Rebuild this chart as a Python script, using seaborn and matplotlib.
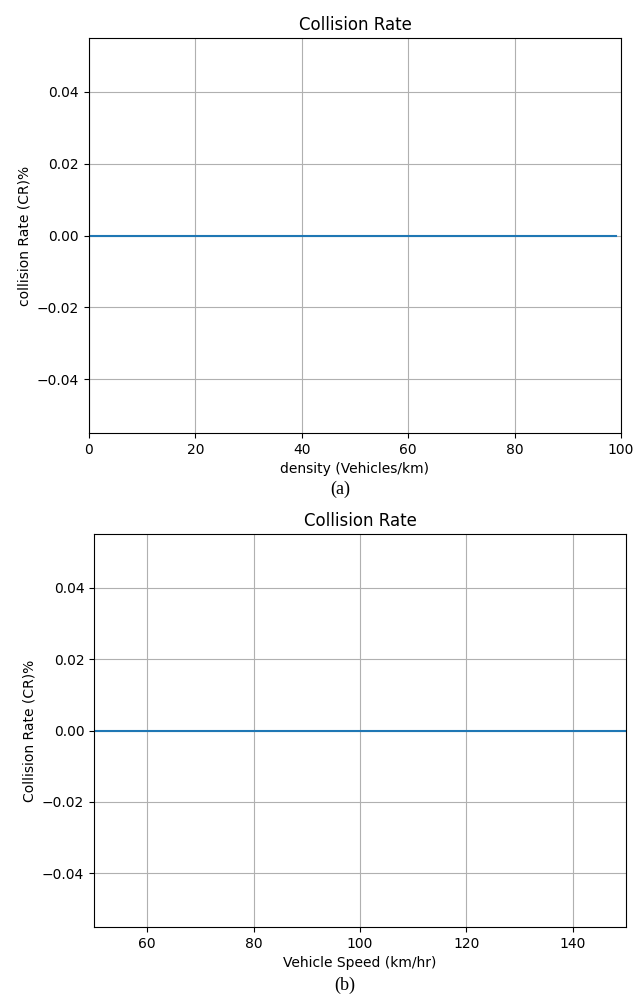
import matplotlib
matplotlib.use("Agg")
import matplotlib.pyplot as plt
import seaborn as sns
import pandas as pd

# Data
density = [0, 10, 20, 30, 40, 50, 60, 70, 80, 90, 99]
cr_density = [0, 0, 0, 0, 0, 0, 0, 0, 0, 0, 0]
speed = [50, 60, 70, 80, 90, 100, 110, 120, 130, 140, 150]
cr_speed = [0, 0, 0, 0, 0, 0, 0, 0, 0, 0, 0]

title = "Collision Rate"

fig = plt.figure(figsize=(6.35, 9.99), dpi=100)
ax1 = fig.add_axes([0.140, 0.5665, 0.838, 0.3955])
ax2 = fig.add_axes([0.148, 0.072, 0.838, 0.3935])

df1 = pd.DataFrame({"density": density, "cr": cr_density})
df2 = pd.DataFrame({"speed": speed, "cr": cr_speed})

sns.lineplot(data=df1, x="density", y="cr", ax=ax1, color="#1f77b4", linewidth=1.5)
sns.lineplot(data=df2, x="speed", y="cr", ax=ax2, color="#1f77b4", linewidth=1.5)

ax1.set_xlim(0, 100)
ax1.set_ylim(-0.055, 0.055)
ax2.set_xlim(50, 150)
ax2.set_ylim(-0.055, 0.055)

ax1.set_title(title, fontsize=12)
ax2.set_title(title, fontsize=12)
ax1.set_xlabel("density (Vehicles/km)", fontsize=10)
ax1.set_ylabel("collision Rate (CR)%", fontsize=10)
ax2.set_xlabel("Vehicle Speed (km/hr)", fontsize=10)
ax2.set_ylabel("Collision Rate (CR)%", fontsize=10)

for ax in (ax1, ax2):
    ax.grid(True, color="#b0b0b0", linewidth=0.8)
    ax.set_axisbelow(True)
    ax.tick_params(labelsize=10)

fig.text(340 / 635, 1 - 489 / 999, "(a)", ha="center", va="center",
         fontsize=13, family="Liberation Serif")
fig.text(345 / 635, 1 - 985 / 999, "(b)", ha="center", va="center",
         fontsize=13, family="Liberation Serif")

fig.savefig("out.png", dpi=100)
